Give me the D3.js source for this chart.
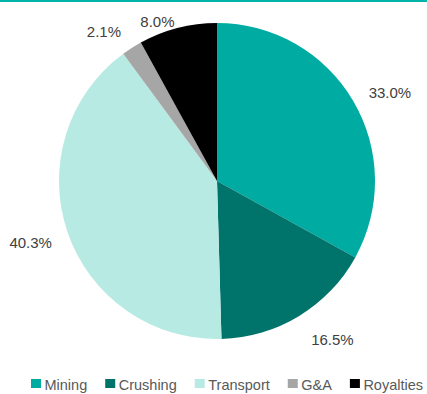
<!DOCTYPE html>
<html>
<head>
<meta charset="utf-8">
<script src="https://cdn.jsdelivr.net/npm/d3@7"></script>
<style>
  body { margin: 0; background: #fff; }
  text { font-family: "Liberation Sans", Arial, sans-serif; }
</style>
</head>
<body>
<div id="chart"></div>
<script>
// data
var categories = ["Mining", "Crushing", "Transport", "G&A", "Royalties"];
var shares = [33.0, 16.5, 40.3, 2.1, 8.0];
var labels = ["33.0%", "16.5%", "40.3%", "2.1%", "8.0%"];

var colors = ["#00aca1", "#00736a", "#b8eae4", "#a6a6a6", "#000000"];

var width = 427, height = 394;
var cx = 217, cy = 181, radius = 158;
var labelRadius = 195;
// small hand nudges so the labels sit where Excel put them
var labelNudge = [[5, 11], [14, -8], [-2, -2], [-8, 15], [-11, 30]];

var svg = d3.select("#chart").append("svg")
  .attr("width", width)
  .attr("height", height);

// teal rule along the top
svg.append("rect")
  .attr("x", 0).attr("y", 0)
  .attr("width", width).attr("height", 2)
  .attr("fill", "#00b3a8");

var pie = d3.pie().sort(null).value(d => d);
var arcs = pie(shares);

var arc = d3.arc().innerRadius(0).outerRadius(radius);

var g = svg.append("g")
  .attr("transform", `translate(${cx}, ${cy})`);

g.selectAll("path")
  .data(arcs).enter()
  .append("path")
  .attr("d", arc)
  .attr("fill", (d, i) => colors[i]);

g.selectAll(".lbl")
  .data(arcs).enter()
  .append("text")
  .attr("class", "lbl")
  .attr("text-anchor", "middle")
  .attr("x", (d, i) => Math.sin((d.startAngle + d.endAngle) / 2) * labelRadius + labelNudge[i][0])
  .attr("y", (d, i) => -Math.cos((d.startAngle + d.endAngle) / 2) * labelRadius + labelNudge[i][1] + 5)
  .attr("fill", "#404040")
  .style("font-size", "15px")
  .text((d, i) => labels[i]);

/* legend */
var legend = svg.append("g").attr("transform", "translate(31, 379)");
var xpos = 0;
categories.forEach(function(c, i) {
  var item = legend.append("g").attr("transform", `translate(${xpos}, 0)`);
  item.append("rect")
    .attr("width", 10).attr("height", 9)
    .attr("fill", colors[i]);
  var t = item.append("text")
    .attr("x", 13.5).attr("y", 11)
    .attr("fill", "#595959")
    .style("font-size", "14.5px")
    .text(c);
  xpos += 13.5 + t.node().getComputedTextLength() + 18;
});
</script>
</body>
</html>
